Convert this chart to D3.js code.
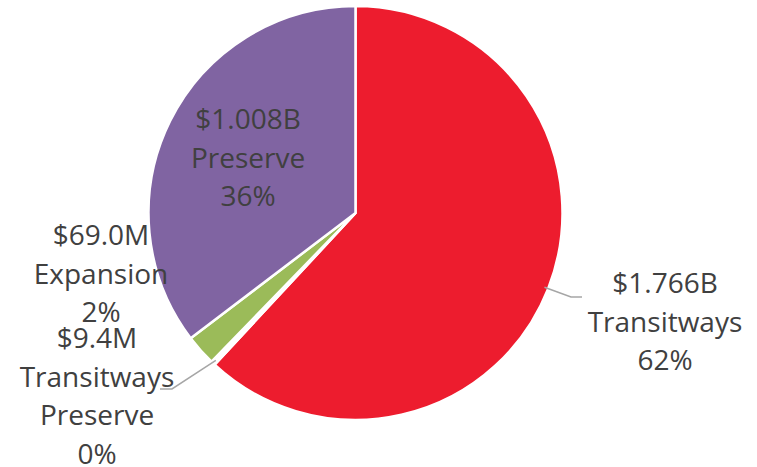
<!DOCTYPE html>
<html>
<head>
<meta charset="utf-8">
<script src="https://cdn.jsdelivr.net/npm/d3@7"></script>
<style>
  body { margin: 0; background: #fff; }
  text { font-family: "Open Sans", Lato, sans-serif; fill: #404040; }
</style>
</head>
<body>
<div id="chart"></div>
<script>
// data
let categories = ['Transitways', 'Transitways Preserve', 'Expansion', 'Preserve']
let amounts = [1766, 9.4, 69.0, 1008] // $ millions
let amountLabels = ['$1.766B', '$9.4M', '$69.0M', '$1.008B']
let percentLabels = ['62%', '0%', '2%', '36%']
let colors = ['#ed1c2e', '#ffffff', '#9bbb59', '#8064a2']

let width = 757
let height = 467
let cx = 355.5
let cy = 213
let radius = 207

let svg = d3.select('#chart')
  .append('svg')
  .attr('width', width)
  .attr('height', height)

let g = svg.append('g')
  .attr('transform', 'translate(' + cx + ',' + cy + ')')

let datapoints = categories.map((c, i) => ({
  name: c,
  value: amounts[i],
  amount: amountLabels[i],
  pct: percentLabels[i],
  color: colors[i]
}))

let pie = d3.pie().sort(null).value(d => d.value)
let arc = d3.arc().innerRadius(0).outerRadius(radius)
let arcs = pie(datapoints)

g.selectAll('.slice')
  .data(arcs)
  .enter()
  .append('path')
  .attr('class', 'slice')
  .attr('d', arc)
  .attr('fill', d => d.data.color)
  .attr('stroke', '#fff')
  .attr('stroke-width', 2.5)

// label layout (centre x, first baseline) and leader elbows
let labelPos = {
  'Transitways': { x: 665, y: 293, leader: [[571, 297], [582, 297]] },
  'Transitways Preserve': { x: 97, y: 348, lines: ['Transitways', 'Preserve'], leader: [[172, 389], [160, 389]] },
  'Expansion': { x: 101, y: 245 },
  'Preserve': { x: 248, y: 129 }
}

let lineHeight = 38.5

arcs.forEach(d => {
  let p = labelPos[d.data.name]
  let lines = [d.data.amount].concat(p.lines || [d.data.name]).concat([d.data.pct])

  if (p.leader) {
    let mid = (d.startAngle + d.endAngle) / 2
    let start = [cx + (radius - 4) * Math.sin(mid), cy - (radius - 4) * Math.cos(mid)]
    svg.append('polyline')
      .attr('points', [start].concat(p.leader).map(q => q.join(',')).join(' '))
      .attr('fill', 'none')
      .attr('stroke', '#a6a6a6')
      .attr('stroke-width', 1.5)
  }

  svg.append('g')
    .selectAll('text')
    .data(lines)
    .enter()
    .append('text')
    .text(t => t)
    .attr('x', p.x)
    .attr('y', (t, i) => p.y + i * lineHeight)
    .attr('text-anchor', 'middle')
    .attr('font-size', 28)
})
</script>
</body>
</html>
